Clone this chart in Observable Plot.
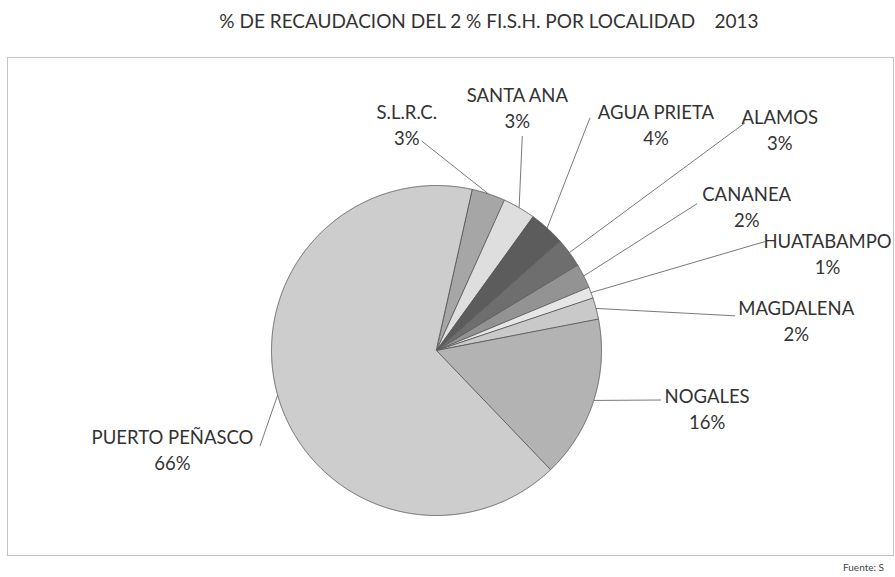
<!DOCTYPE html>
<html>
<head>
<meta charset="utf-8">
<script src="https://cdn.jsdelivr.net/npm/d3@7"></script>
<script src="https://cdn.jsdelivr.net/npm/@observablehq/plot@0.6"></script>
<style>
  html, body { margin: 0; padding: 0; background: #fff; }
  body { position: relative; width: 895px; height: 577px; overflow: hidden; font-family: Lato, "Noto Sans", sans-serif; }
  #title { position: absolute; top: 9px; left: 489px; transform: translateX(-50%); white-space: pre; font-size: 19px; color: #333; }
  #chart { position: absolute; top: 0; left: 0; }
  #source { position: absolute; left: 843px; top: 561px; font-size: 10px; color: #444; white-space: pre; }
</style>
</head>
<body>
<div id="chart"></div>
<div id="title">% DE RECAUDACION DEL 2 % FI.S.H. POR LOCALIDAD    2013</div>
<div id="source">Fuente: S</div>
<script>
// ---- data ----
const names = ["S.L.R.C.", "SANTA ANA", "AGUA PRIETA", "ALAMOS", "CANANEA", "HUATABAMPO", "MAGDALENA", "NOGALES", "PUERTO PEÑASCO"];
const shares = [3.3, 3.2, 3.5, 2.9, 2.4, 1.1, 2.1, 15.9, 65.6];
const pctLabels = ["3%", "3%", "4%", "3%", "2%", "1%", "2%", "16%", "66%"];

// ---- styles ----
const grays = ["#a6a6a6", "#dedede", "#5c5c5c", "#6e6e6e", "#939393", "#e6e6e6", "#c9c9c9", "#b3b3b3", "#cdcdcd"];

// ---- layout (label placement, in units of the pie radius) ----
const labelLayout = [
  {lx: -0.18, ly: 1.44, ax: -0.09, ay: 1.27},
  {lx: 0.49, ly: 1.54, ax: 0.52, ay: 1.30},
  {lx: 1.33, ly: 1.44, ax: 0.93, ay: 1.41},
  {lx: 2.08, ly: 1.41, ax: 1.87, ay: 1.38},
  {lx: 1.88, ly: 0.94, ax: 1.58, ay: 0.89},
  {lx: 2.37, ly: 0.66, ax: 1.99, ay: 0.66},
  {lx: 2.18, ly: 0.25, ax: 1.81, ay: 0.21},
  {lx: 1.64, ly: -0.28, ax: 1.36, ay: -0.30},
  {lx: -1.60, ly: -0.53, ax: -1.07, ay: -0.58}
];
const startDeg = 12.4;

const rows = names.map((name, i) => ({name, v: shares[i], pct: pctLabels[i], ...labelLayout[i]}));

const a0 = startDeg * Math.PI / 180;
const arcs = d3.pie().sort(null).value(d => d.v).startAngle(a0).endAngle(a0 + 2 * Math.PI)(rows);

const slicePts = arcs.flatMap(a => {
  const pts = [{name: a.data.name, x: 0, y: 0}];
  const n = Math.max(2, Math.ceil((a.endAngle - a.startAngle) / 0.004));
  for (let i = 0; i <= n; i++) {
    const t = a.startAngle + (a.endAngle - a.startAngle) * i / n;
    pts.push({name: a.data.name, x: Math.sin(t), y: Math.cos(t)});
  }
  return pts;
});

const leaders = arcs.map(a => {
  const m = (a.startAngle + a.endAngle) / 2;
  return {name: a.data.name, x1: Math.sin(m), y1: Math.cos(m), x2: a.data.ax, y2: a.data.ay};
});

const chart = Plot.plot({
  width: 895,
  height: 577,
  marginLeft: 7,
  marginRight: 2,
  marginTop: 57,
  marginBottom: 22,
  x: {domain: [-1, 1], range: [271, 601], axis: null},
  y: {domain: [-1, 1], range: [515, 185], axis: null},
  color: {domain: names, range: grays},
  style: {fontFamily: "Lato, 'Noto Sans', sans-serif", background: "#fff"},
  marks: [
    Plot.frame({stroke: "#c4c4c4", strokeWidth: 1}),
    Plot.link(leaders, {x1: "x1", y1: "y1", x2: "x2", y2: "y2", stroke: "#7a7a7a", strokeWidth: 1}),
    Plot.line(slicePts, {x: "x", y: "y", z: "name", fill: "name", stroke: "#5a5a5a", strokeWidth: 0.9, curve: "linear-closed"}),
    Plot.text(rows, {x: "lx", y: "ly", text: "name", fontSize: 18.5, fill: "#333", textAnchor: "middle"}),
    Plot.text(rows, {x: "lx", y: "ly", text: "pct", dy: 26, fontSize: 18.5, fill: "#333", textAnchor: "middle"})
  ]
});
document.getElementById("chart").appendChild(chart);
</script>
</body>
</html>
